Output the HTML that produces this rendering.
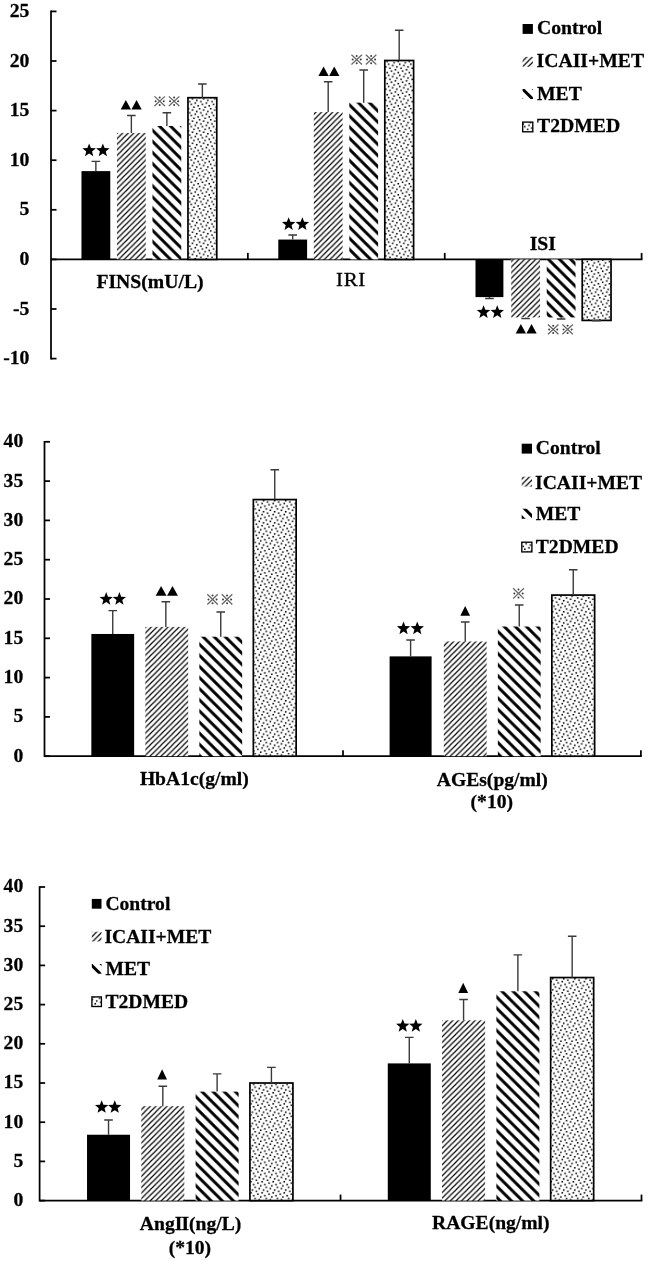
<!DOCTYPE html>
<html><head><meta charset="utf-8"><title>chart</title>
<style>html,body{margin:0;padding:0;background:#fff}svg{display:block}svg{filter:grayscale(1)}text{font-family:"Liberation Serif",serif;fill:#000;stroke:#000;stroke-width:0.28px;stroke-linejoin:round}text.n{stroke-width:0}</style></head><body>
<svg width="648" height="1261" viewBox="0 0 648 1261">
<defs>
<pattern id="pf" patternUnits="userSpaceOnUse" x="0.00" y="0.00" width="5.560" height="5.560"><rect width="5.560" height="5.560" fill="#fff"/><path d="M-5.560 5.560L5.560 -5.560M0.000 11.120L11.120 0.000M-5.560 11.120L11.120 -5.560" stroke="#000" stroke-width="1.18" fill="none"/></pattern>
<pattern id="pt" patternUnits="userSpaceOnUse" x="0.00" y="0.00" width="11.120" height="11.120"><rect width="11.120" height="11.120" fill="#fff"/><path d="M-11.120 -11.120L22.240 22.240M0.000 -11.120L22.240 11.120M-11.120 0.000L11.120 22.240" stroke="#000" stroke-width="2.95" fill="none"/></pattern>
<pattern id="pd" patternUnits="userSpaceOnUse" x="1.46" y="7.86" width="11.120" height="11.120"><rect width="11.120" height="11.120" fill="#fff"/><rect x="8.260" y="-0.080" width="1.550" height="1.550" fill="#000"/><rect x="1.310" y="1.310" width="1.550" height="1.550" fill="#000"/><rect x="5.480" y="2.700" width="1.550" height="1.550" fill="#000"/><rect x="9.650" y="4.090" width="1.550" height="1.550" fill="#000"/><rect x="4.090" y="5.480" width="1.550" height="1.550" fill="#000"/><rect x="-0.080" y="6.870" width="1.550" height="1.550" fill="#000"/><rect x="6.870" y="8.260" width="1.550" height="1.550" fill="#000"/><rect x="2.700" y="9.650" width="1.550" height="1.550" fill="#000"/></pattern>
</defs>
<rect width="648" height="1261" fill="#fff"/>
<path d="M51.00 10.53V359.47" stroke="#000" stroke-width="1.75" fill="none"/>
<path d="M51.00 259.40H642.47" stroke="#000" stroke-width="1.75" fill="none"/>
<path d="M51.00 358.60H56.50" stroke="#000" stroke-width="1.75" fill="none"/>
<text x="29.40" y="364.10" font-size="19.70" text-anchor="end" font-weight="bold" >-10</text>
<path d="M51.00 309.00H56.50" stroke="#000" stroke-width="1.75" fill="none"/>
<text x="29.40" y="314.50" font-size="19.70" text-anchor="end" font-weight="bold" >-5</text>
<path d="M51.00 259.40H56.50" stroke="#000" stroke-width="1.75" fill="none"/>
<text x="29.40" y="264.90" font-size="19.70" text-anchor="end" font-weight="bold" >0</text>
<path d="M51.00 209.80H56.50" stroke="#000" stroke-width="1.75" fill="none"/>
<text x="29.40" y="215.30" font-size="19.70" text-anchor="end" font-weight="bold" >5</text>
<path d="M51.00 160.20H56.50" stroke="#000" stroke-width="1.75" fill="none"/>
<text x="29.40" y="165.70" font-size="19.70" text-anchor="end" font-weight="bold" >10</text>
<path d="M51.00 110.60H56.50" stroke="#000" stroke-width="1.75" fill="none"/>
<text x="29.40" y="116.10" font-size="19.70" text-anchor="end" font-weight="bold" >15</text>
<path d="M51.00 61.00H56.50" stroke="#000" stroke-width="1.75" fill="none"/>
<text x="29.40" y="66.50" font-size="19.70" text-anchor="end" font-weight="bold" >20</text>
<path d="M51.00 11.40H56.50" stroke="#000" stroke-width="1.75" fill="none"/>
<text x="29.40" y="16.90" font-size="19.70" text-anchor="end" font-weight="bold" >25</text>
<path d="M247.87 259.40V252.90" stroke="#000" stroke-width="1.75" fill="none"/>
<path d="M444.73 259.40V252.90" stroke="#000" stroke-width="1.75" fill="none"/>
<path d="M641.60 259.40V252.90" stroke="#000" stroke-width="1.75" fill="none"/>
<rect x="81.47" y="171.11" width="28.80" height="88.29" fill="#000"/>
<path d="M95.87 171.11V161.40M91.57 161.40H100.17" stroke="#3a3a3a" stroke-width="1.4" fill="none"/>
<rect x="116.97" y="132.92" width="28.80" height="126.48" fill="url(#pf)"/>
<path d="M131.37 132.92V115.50M127.07 115.50H135.67" stroke="#3a3a3a" stroke-width="1.4" fill="none"/>
<rect x="152.47" y="125.98" width="28.80" height="133.42" fill="url(#pt)"/>
<path d="M166.87 125.98V112.80M162.56 112.80H171.17" stroke="#3a3a3a" stroke-width="1.4" fill="none"/>
<rect x="187.97" y="97.70" width="28.80" height="161.70" fill="url(#pd)" stroke="#000" stroke-width="1.7"/>
<path d="M202.37 97.70V84.00M198.06 84.00H206.67" stroke="#3a3a3a" stroke-width="1.4" fill="none"/>
<rect x="278.30" y="239.56" width="28.80" height="19.84" fill="#000"/>
<path d="M292.69 239.56V235.00M288.39 235.00H297.00" stroke="#3a3a3a" stroke-width="1.4" fill="none"/>
<rect x="313.80" y="112.09" width="28.80" height="147.31" fill="url(#pf)"/>
<path d="M328.19 112.09V81.70M323.89 81.70H332.50" stroke="#3a3a3a" stroke-width="1.4" fill="none"/>
<rect x="349.30" y="102.66" width="28.80" height="156.74" fill="url(#pt)"/>
<path d="M363.69 102.66V70.00M359.39 70.00H368.00" stroke="#3a3a3a" stroke-width="1.4" fill="none"/>
<rect x="384.80" y="60.50" width="28.80" height="198.90" fill="url(#pd)" stroke="#000" stroke-width="1.7"/>
<path d="M399.19 60.50V30.20M394.89 30.20H403.50" stroke="#3a3a3a" stroke-width="1.4" fill="none"/>
<rect x="475.50" y="259.40" width="27.90" height="37.70" fill="#000"/>
<path d="M489.45 297.10V298.50M485.15 298.50H493.75" stroke="#3a3a3a" stroke-width="1.4" fill="none"/>
<rect x="511.23" y="259.40" width="28.80" height="58.03" fill="url(#pf)"/>
<path d="M525.62 317.43V318.60M521.33 318.60H529.92" stroke="#3a3a3a" stroke-width="1.4" fill="none"/>
<rect x="546.73" y="259.40" width="28.80" height="58.03" fill="url(#pt)"/>
<path d="M561.12 317.43V319.00M556.83 319.00H565.42" stroke="#3a3a3a" stroke-width="1.4" fill="none"/>
<rect x="582.23" y="259.40" width="28.80" height="61.01" fill="url(#pd)" stroke="#000" stroke-width="1.7"/>
<path d="M596.62 320.41V320.70M592.33 320.70H600.92" stroke="#3a3a3a" stroke-width="1.4" fill="none"/>
<polygon points="89.15,143.40 90.94,148.03 95.90,148.31 92.05,151.44 93.32,156.24 89.15,153.55 84.98,156.24 86.25,151.44 82.40,148.31 87.36,148.03" fill="#000"/><polygon points="102.85,143.40 104.64,148.03 109.60,148.31 105.75,151.44 107.02,156.24 102.85,153.55 98.68,156.24 99.95,151.44 96.10,148.31 101.06,148.03" fill="#000"/>
<polygon points="125.85,100.10 131.00,109.50 120.70,109.50" fill="#000"/><polygon points="136.55,100.10 141.70,109.50 131.40,109.50" fill="#000"/>
<g stroke="#646464" stroke-width="1.25" fill="#3c3c3c"><line x1="154.45" y1="96.37" x2="164.95" y2="106.03"/><line x1="154.45" y1="106.03" x2="164.95" y2="96.37"/><circle cx="159.70" cy="97.48" r="1.0" stroke="none"/><circle cx="159.70" cy="104.92" r="1.0" stroke="none"/><circle cx="155.66" cy="101.20" r="1.0" stroke="none"/><circle cx="163.74" cy="101.20" r="1.0" stroke="none"/></g><g stroke="#646464" stroke-width="1.25" fill="#3c3c3c"><line x1="168.85" y1="96.37" x2="179.35" y2="106.03"/><line x1="168.85" y1="106.03" x2="179.35" y2="96.37"/><circle cx="174.10" cy="97.48" r="1.0" stroke="none"/><circle cx="174.10" cy="104.92" r="1.0" stroke="none"/><circle cx="170.06" cy="101.20" r="1.0" stroke="none"/><circle cx="178.14" cy="101.20" r="1.0" stroke="none"/></g>
<polygon points="288.65,217.20 290.44,221.83 295.40,222.11 291.55,225.24 292.82,230.04 288.65,227.35 284.48,230.04 285.75,225.24 281.90,222.11 286.86,221.83" fill="#000"/><polygon points="302.35,217.20 304.14,221.83 309.10,222.11 305.25,225.24 306.52,230.04 302.35,227.35 298.18,230.04 299.45,225.24 295.60,222.11 300.56,221.83" fill="#000"/>
<polygon points="323.55,66.50 328.70,75.90 318.40,75.90" fill="#000"/><polygon points="334.25,66.50 339.40,75.90 329.10,75.90" fill="#000"/>
<g stroke="#646464" stroke-width="1.25" fill="#3c3c3c"><line x1="351.45" y1="54.77" x2="361.95" y2="64.43"/><line x1="351.45" y1="64.43" x2="361.95" y2="54.77"/><circle cx="356.70" cy="55.88" r="1.0" stroke="none"/><circle cx="356.70" cy="63.32" r="1.0" stroke="none"/><circle cx="352.66" cy="59.60" r="1.0" stroke="none"/><circle cx="360.74" cy="59.60" r="1.0" stroke="none"/></g><g stroke="#646464" stroke-width="1.25" fill="#3c3c3c"><line x1="365.85" y1="54.77" x2="376.35" y2="64.43"/><line x1="365.85" y1="64.43" x2="376.35" y2="54.77"/><circle cx="371.10" cy="55.88" r="1.0" stroke="none"/><circle cx="371.10" cy="63.32" r="1.0" stroke="none"/><circle cx="367.06" cy="59.60" r="1.0" stroke="none"/><circle cx="375.14" cy="59.60" r="1.0" stroke="none"/></g>
<polygon points="483.55,305.20 485.34,309.83 490.30,310.11 486.45,313.24 487.72,318.04 483.55,315.35 479.38,318.04 480.65,313.24 476.80,310.11 481.76,309.83" fill="#000"/><polygon points="497.25,305.20 499.04,309.83 504.00,310.11 500.15,313.24 501.42,318.04 497.25,315.35 493.08,318.04 494.35,313.24 490.50,310.11 495.46,309.83" fill="#000"/>
<polygon points="520.85,324.10 526.00,333.50 515.70,333.50" fill="#000"/><polygon points="531.55,324.10 536.70,333.50 526.40,333.50" fill="#000"/>
<g stroke="#646464" stroke-width="1.25" fill="#3c3c3c"><line x1="547.95" y1="324.57" x2="558.45" y2="334.23"/><line x1="547.95" y1="334.23" x2="558.45" y2="324.57"/><circle cx="553.20" cy="325.68" r="1.0" stroke="none"/><circle cx="553.20" cy="333.12" r="1.0" stroke="none"/><circle cx="549.16" cy="329.40" r="1.0" stroke="none"/><circle cx="557.24" cy="329.40" r="1.0" stroke="none"/></g><g stroke="#646464" stroke-width="1.25" fill="#3c3c3c"><line x1="562.35" y1="324.57" x2="572.85" y2="334.23"/><line x1="562.35" y1="334.23" x2="572.85" y2="324.57"/><circle cx="567.60" cy="325.68" r="1.0" stroke="none"/><circle cx="567.60" cy="333.12" r="1.0" stroke="none"/><circle cx="563.56" cy="329.40" r="1.0" stroke="none"/><circle cx="571.64" cy="329.40" r="1.0" stroke="none"/></g>
<text x="150.00" y="287.80" font-size="19.70" text-anchor="middle" font-weight="bold" >FINS(mU/L)</text>
<g transform="translate(351.0 285.8) scale(1.16 1)"><text x="0.00" y="0.00" font-size="18.00" text-anchor="middle" font-weight="normal" letter-spacing="0.6" style="stroke-width:0.3px">IRI</text></g>
<text x="542.80" y="250.20" font-size="19.70" text-anchor="middle" font-weight="bold" >ISI</text>
<rect x="522.60" y="24.00" width="10.30" height="9.90" fill="#000"/><text x="537.00" y="34.40" font-size="19.70" text-anchor="start" font-weight="bold" >Control</text><rect x="522.60" y="56.90" width="10.30" height="9.90" fill="url(#pf)"/><text x="536.60" y="67.30" font-size="19.70" text-anchor="start" font-weight="bold" >ICAII+MET</text><svg x="522.60" y="89.00" width="10.30" height="9.90" viewBox="0 0 10.30 9.90"><line x1="-5" y1="-16.12" x2="20" y2="8.88" stroke="#000" stroke-width="2.95"/><line x1="-5" y1="-5.00" x2="20" y2="20.00" stroke="#000" stroke-width="2.95"/><line x1="-5" y1="6.12" x2="20" y2="31.12" stroke="#000" stroke-width="2.95"/></svg><text x="537.00" y="99.60" font-size="19.70" text-anchor="start" font-weight="bold" >MET</text><rect x="522.70" y="122.10" width="10.10" height="9.70" fill="url(#pd)" stroke="#000" stroke-width="1.35"/><text x="537.00" y="131.90" font-size="19.70" text-anchor="start" font-weight="bold" >T2DMED</text>
<path d="M44.50 440.93V757.07" stroke="#000" stroke-width="1.75" fill="none"/>
<path d="M44.50 756.20H641.77" stroke="#000" stroke-width="1.75" fill="none"/>
<path d="M44.50 756.20H50.00" stroke="#000" stroke-width="1.75" fill="none"/>
<text x="23.20" y="761.60" font-size="19.60" text-anchor="end" font-weight="bold" >0</text>
<path d="M44.50 716.90H50.00" stroke="#000" stroke-width="1.75" fill="none"/>
<text x="23.20" y="722.30" font-size="19.60" text-anchor="end" font-weight="bold" >5</text>
<path d="M44.50 677.60H50.00" stroke="#000" stroke-width="1.75" fill="none"/>
<text x="23.20" y="683.00" font-size="19.60" text-anchor="end" font-weight="bold" >10</text>
<path d="M44.50 638.30H50.00" stroke="#000" stroke-width="1.75" fill="none"/>
<text x="23.20" y="643.70" font-size="19.60" text-anchor="end" font-weight="bold" >15</text>
<path d="M44.50 599.00H50.00" stroke="#000" stroke-width="1.75" fill="none"/>
<text x="23.20" y="604.40" font-size="19.60" text-anchor="end" font-weight="bold" >20</text>
<path d="M44.50 559.70H50.00" stroke="#000" stroke-width="1.75" fill="none"/>
<text x="23.20" y="565.10" font-size="19.60" text-anchor="end" font-weight="bold" >25</text>
<path d="M44.50 520.40H50.00" stroke="#000" stroke-width="1.75" fill="none"/>
<text x="23.20" y="525.80" font-size="19.60" text-anchor="end" font-weight="bold" >30</text>
<path d="M44.50 481.10H50.00" stroke="#000" stroke-width="1.75" fill="none"/>
<text x="23.20" y="486.50" font-size="19.60" text-anchor="end" font-weight="bold" >35</text>
<path d="M44.50 441.80H50.00" stroke="#000" stroke-width="1.75" fill="none"/>
<text x="23.20" y="447.20" font-size="19.60" text-anchor="end" font-weight="bold" >40</text>
<path d="M343.00 756.20V750.20" stroke="#000" stroke-width="1.75" fill="none"/>
<path d="M640.90 756.20V750.20" stroke="#000" stroke-width="1.75" fill="none"/>
<rect x="91.35" y="633.98" width="42.80" height="122.22" fill="#000"/>
<path d="M112.75 633.98V610.60M108.45 610.60H117.05" stroke="#3a3a3a" stroke-width="1.4" fill="none"/>
<rect x="145.35" y="626.90" width="42.80" height="129.30" fill="url(#pf)"/>
<path d="M165.85 626.90V601.70M161.55 601.70H170.15" stroke="#3a3a3a" stroke-width="1.4" fill="none"/>
<rect x="199.35" y="636.73" width="42.80" height="119.47" fill="url(#pt)"/>
<path d="M220.75 636.73V612.00M216.45 612.00H225.05" stroke="#3a3a3a" stroke-width="1.4" fill="none"/>
<rect x="253.35" y="499.57" width="42.80" height="256.63" fill="url(#pd)" stroke="#000" stroke-width="1.7"/>
<path d="M274.75 499.57V469.70M270.45 469.70H279.05" stroke="#3a3a3a" stroke-width="1.4" fill="none"/>
<rect x="389.60" y="656.38" width="42.00" height="99.82" fill="#000"/>
<path d="M410.60 656.38V640.00M406.30 640.00H414.90" stroke="#3a3a3a" stroke-width="1.4" fill="none"/>
<rect x="443.85" y="641.44" width="42.80" height="114.76" fill="url(#pf)"/>
<path d="M465.25 641.44V622.00M460.95 622.00H469.55" stroke="#3a3a3a" stroke-width="1.4" fill="none"/>
<rect x="497.85" y="626.51" width="42.80" height="129.69" fill="url(#pt)"/>
<path d="M519.25 626.51V605.00M514.95 605.00H523.55" stroke="#3a3a3a" stroke-width="1.4" fill="none"/>
<rect x="551.85" y="595.07" width="42.80" height="161.13" fill="url(#pd)" stroke="#000" stroke-width="1.7"/>
<path d="M573.25 595.07V569.70M568.95 569.70H577.55" stroke="#3a3a3a" stroke-width="1.4" fill="none"/>
<polygon points="106.20,592.10 107.97,596.66 112.86,596.94 109.06,600.03 110.31,604.76 106.20,602.11 102.09,604.76 103.34,600.03 99.54,596.94 104.43,596.66" fill="#000"/><polygon points="119.40,592.10 121.17,596.66 126.06,596.94 122.26,600.03 123.51,604.76 119.40,602.11 115.29,604.76 116.54,600.03 112.74,596.94 117.63,596.66" fill="#000"/>
<polygon points="161.10,585.90 166.55,595.70 155.65,595.70" fill="#000"/><polygon points="172.50,585.90 177.95,595.70 167.05,595.70" fill="#000"/>
<g stroke="#646464" stroke-width="1.25" fill="#3c3c3c"><line x1="207.30" y1="594.25" x2="217.80" y2="604.55"/><line x1="207.30" y1="604.55" x2="217.80" y2="594.25"/><circle cx="212.55" cy="595.44" r="1.0" stroke="none"/><circle cx="212.55" cy="603.36" r="1.0" stroke="none"/><circle cx="208.51" cy="599.40" r="1.0" stroke="none"/><circle cx="216.59" cy="599.40" r="1.0" stroke="none"/></g><g stroke="#646464" stroke-width="1.25" fill="#3c3c3c"><line x1="221.80" y1="594.25" x2="232.30" y2="604.55"/><line x1="221.80" y1="604.55" x2="232.30" y2="594.25"/><circle cx="227.05" cy="595.44" r="1.0" stroke="none"/><circle cx="227.05" cy="603.36" r="1.0" stroke="none"/><circle cx="223.01" cy="599.40" r="1.0" stroke="none"/><circle cx="231.09" cy="599.40" r="1.0" stroke="none"/></g>
<polygon points="403.55,621.50 405.32,626.06 410.21,626.34 406.41,629.43 407.66,634.16 403.55,631.51 399.44,634.16 400.69,629.43 396.89,626.34 401.78,626.06" fill="#000"/><polygon points="417.25,621.50 419.02,626.06 423.91,626.34 420.11,629.43 421.36,634.16 417.25,631.51 413.14,634.16 414.39,629.43 410.59,626.34 415.48,626.06" fill="#000"/>
<polygon points="465.20,605.90 470.10,615.70 460.30,615.70" fill="#000"/>
<g stroke="#646464" stroke-width="1.25" fill="#3c3c3c"><line x1="513.09" y1="588.21" x2="523.91" y2="598.59"/><line x1="513.09" y1="598.59" x2="523.91" y2="588.21"/><circle cx="518.50" cy="589.41" r="1.0" stroke="none"/><circle cx="518.50" cy="597.39" r="1.0" stroke="none"/><circle cx="514.34" cy="593.40" r="1.0" stroke="none"/><circle cx="522.66" cy="593.40" r="1.0" stroke="none"/></g>
<text x="194.30" y="785.20" font-size="19.60" text-anchor="middle" font-weight="bold" >HbA1c(g/ml)</text>
<text x="492.30" y="785.70" font-size="19.60" text-anchor="middle" font-weight="bold" >AGEs(pg/ml)</text>
<text x="491.80" y="807.80" font-size="19.60" text-anchor="middle" font-weight="bold" >(*10)</text>
<rect x="521.70" y="443.70" width="10.30" height="9.90" fill="#000"/><text x="535.80" y="454.20" font-size="19.60" text-anchor="start" font-weight="bold" >Control</text><rect x="521.70" y="476.70" width="10.30" height="9.90" fill="url(#pf)"/><text x="535.10" y="488.80" font-size="19.60" text-anchor="start" font-weight="bold" >ICAII+MET</text><svg x="521.70" y="508.80" width="10.30" height="9.90" viewBox="0 0 10.30 9.90"><line x1="-5" y1="-19.12" x2="20" y2="5.88" stroke="#000" stroke-width="2.95"/><line x1="-5" y1="-8.00" x2="20" y2="17.00" stroke="#000" stroke-width="2.95"/><line x1="-5" y1="3.12" x2="20" y2="28.12" stroke="#000" stroke-width="2.95"/></svg><text x="535.80" y="519.90" font-size="19.60" text-anchor="start" font-weight="bold" >MET</text><rect x="521.80" y="542.20" width="10.10" height="9.70" fill="url(#pd)" stroke="#000" stroke-width="1.35"/><text x="535.80" y="552.70" font-size="19.60" text-anchor="start" font-weight="bold" >T2DMED</text>
<path d="M39.60 886.13V1201.47" stroke="#000" stroke-width="1.75" fill="none"/>
<path d="M39.60 1200.60H642.37" stroke="#000" stroke-width="1.75" fill="none"/>
<path d="M39.60 1200.60H45.10" stroke="#000" stroke-width="1.75" fill="none"/>
<text x="23.20" y="1206.00" font-size="19.60" text-anchor="end" font-weight="bold" >0</text>
<path d="M39.60 1161.40H45.10" stroke="#000" stroke-width="1.75" fill="none"/>
<text x="23.20" y="1166.80" font-size="19.60" text-anchor="end" font-weight="bold" >5</text>
<path d="M39.60 1122.20H45.10" stroke="#000" stroke-width="1.75" fill="none"/>
<text x="23.20" y="1127.60" font-size="19.60" text-anchor="end" font-weight="bold" >10</text>
<path d="M39.60 1083.00H45.10" stroke="#000" stroke-width="1.75" fill="none"/>
<text x="23.20" y="1088.40" font-size="19.60" text-anchor="end" font-weight="bold" >15</text>
<path d="M39.60 1043.80H45.10" stroke="#000" stroke-width="1.75" fill="none"/>
<text x="23.20" y="1049.20" font-size="19.60" text-anchor="end" font-weight="bold" >20</text>
<path d="M39.60 1004.60H45.10" stroke="#000" stroke-width="1.75" fill="none"/>
<text x="23.20" y="1010.00" font-size="19.60" text-anchor="end" font-weight="bold" >25</text>
<path d="M39.60 965.40H45.10" stroke="#000" stroke-width="1.75" fill="none"/>
<text x="23.20" y="970.80" font-size="19.60" text-anchor="end" font-weight="bold" >30</text>
<path d="M39.60 926.20H45.10" stroke="#000" stroke-width="1.75" fill="none"/>
<text x="23.20" y="931.60" font-size="19.60" text-anchor="end" font-weight="bold" >35</text>
<path d="M39.60 887.00H45.10" stroke="#000" stroke-width="1.75" fill="none"/>
<text x="23.20" y="892.40" font-size="19.60" text-anchor="end" font-weight="bold" >40</text>
<path d="M340.55 1200.60V1194.60" stroke="#000" stroke-width="1.75" fill="none"/>
<path d="M641.50 1200.60V1194.60" stroke="#000" stroke-width="1.75" fill="none"/>
<rect x="87.03" y="1134.74" width="43.00" height="65.86" fill="#000"/>
<path d="M108.53 1134.74V1120.00M104.23 1120.00H112.83" stroke="#3a3a3a" stroke-width="1.4" fill="none"/>
<rect x="141.32" y="1106.13" width="43.00" height="94.47" fill="url(#pf)"/>
<path d="M162.82 1106.13V1086.20M158.52 1086.20H167.12" stroke="#3a3a3a" stroke-width="1.4" fill="none"/>
<rect x="195.62" y="1091.62" width="43.00" height="108.98" fill="url(#pt)"/>
<path d="M217.12 1091.62V1073.90M212.82 1073.90H221.43" stroke="#3a3a3a" stroke-width="1.4" fill="none"/>
<rect x="249.92" y="1083.00" width="43.00" height="117.60" fill="url(#pd)" stroke="#000" stroke-width="1.7"/>
<path d="M271.42 1083.00V1067.40M267.12 1067.40H275.72" stroke="#3a3a3a" stroke-width="1.4" fill="none"/>
<rect x="387.78" y="1063.40" width="43.00" height="137.20" fill="#000"/>
<path d="M409.28 1063.40V1037.40M404.98 1037.40H413.58" stroke="#3a3a3a" stroke-width="1.4" fill="none"/>
<rect x="442.08" y="1020.28" width="43.00" height="180.32" fill="url(#pf)"/>
<path d="M463.58 1020.28V999.50M459.28 999.50H467.88" stroke="#3a3a3a" stroke-width="1.4" fill="none"/>
<rect x="496.38" y="991.27" width="43.00" height="209.33" fill="url(#pt)"/>
<path d="M517.88 991.27V954.90M513.58 954.90H522.17" stroke="#3a3a3a" stroke-width="1.4" fill="none"/>
<rect x="550.67" y="977.55" width="43.00" height="223.05" fill="url(#pd)" stroke="#000" stroke-width="1.7"/>
<path d="M572.17 977.55V936.20M567.88 936.20H576.47" stroke="#3a3a3a" stroke-width="1.4" fill="none"/>
<polygon points="101.65,1100.20 103.42,1104.76 108.31,1105.04 104.51,1108.13 105.76,1112.86 101.65,1110.21 97.54,1112.86 98.79,1108.13 94.99,1105.04 99.88,1104.76" fill="#000"/><polygon points="114.75,1100.20 116.52,1104.76 121.41,1105.04 117.61,1108.13 118.86,1112.86 114.75,1110.21 110.64,1112.86 111.89,1108.13 108.09,1105.04 112.98,1104.76" fill="#000"/>
<polygon points="162.10,1069.30 167.00,1079.50 157.20,1079.50" fill="#000"/>
<polygon points="402.75,1019.00 404.52,1023.56 409.41,1023.84 405.61,1026.93 406.86,1031.66 402.75,1029.01 398.64,1031.66 399.89,1026.93 396.09,1023.84 400.98,1023.56" fill="#000"/><polygon points="415.85,1019.00 417.62,1023.56 422.51,1023.84 418.71,1026.93 419.96,1031.66 415.85,1029.01 411.74,1031.66 412.99,1026.93 409.19,1023.84 414.08,1023.56" fill="#000"/>
<polygon points="463.20,982.70 468.10,992.90 458.30,992.90" fill="#000"/>
<text x="190.60" y="1230.30" font-size="19.60" text-anchor="middle" font-weight="bold" >AngI<tspan dx="-0.9">I</tspan>(ng/L)</text>
<text x="189.90" y="1253.50" font-size="19.60" text-anchor="middle" font-weight="bold" >(*10)</text>
<text x="490.80" y="1229.30" font-size="19.60" text-anchor="middle" font-weight="bold" >RAGE(ng/ml)</text>
<rect x="91.80" y="898.90" width="9.70" height="9.80" fill="#000"/><text x="105.40" y="909.50" font-size="19.60" text-anchor="start" font-weight="bold" >Control</text><rect x="91.80" y="931.70" width="9.70" height="9.80" fill="url(#pf)"/><text x="104.40" y="942.80" font-size="19.60" text-anchor="start" font-weight="bold" >ICAII+MET</text><svg x="91.80" y="963.90" width="9.70" height="9.80" viewBox="0 0 9.70 9.80"><line x1="-5" y1="-14.62" x2="20" y2="10.38" stroke="#000" stroke-width="2.95"/><line x1="-5" y1="-3.50" x2="20" y2="21.50" stroke="#000" stroke-width="2.95"/><line x1="-5" y1="7.62" x2="20" y2="32.62" stroke="#000" stroke-width="2.95"/></svg><text x="105.40" y="975.10" font-size="19.60" text-anchor="start" font-weight="bold" >MET</text><rect x="91.90" y="996.90" width="9.50" height="9.60" fill="url(#pd)" stroke="#000" stroke-width="1.35"/><text x="105.40" y="1007.60" font-size="19.60" text-anchor="start" font-weight="bold" >T2DMED</text>
</svg></body></html>
